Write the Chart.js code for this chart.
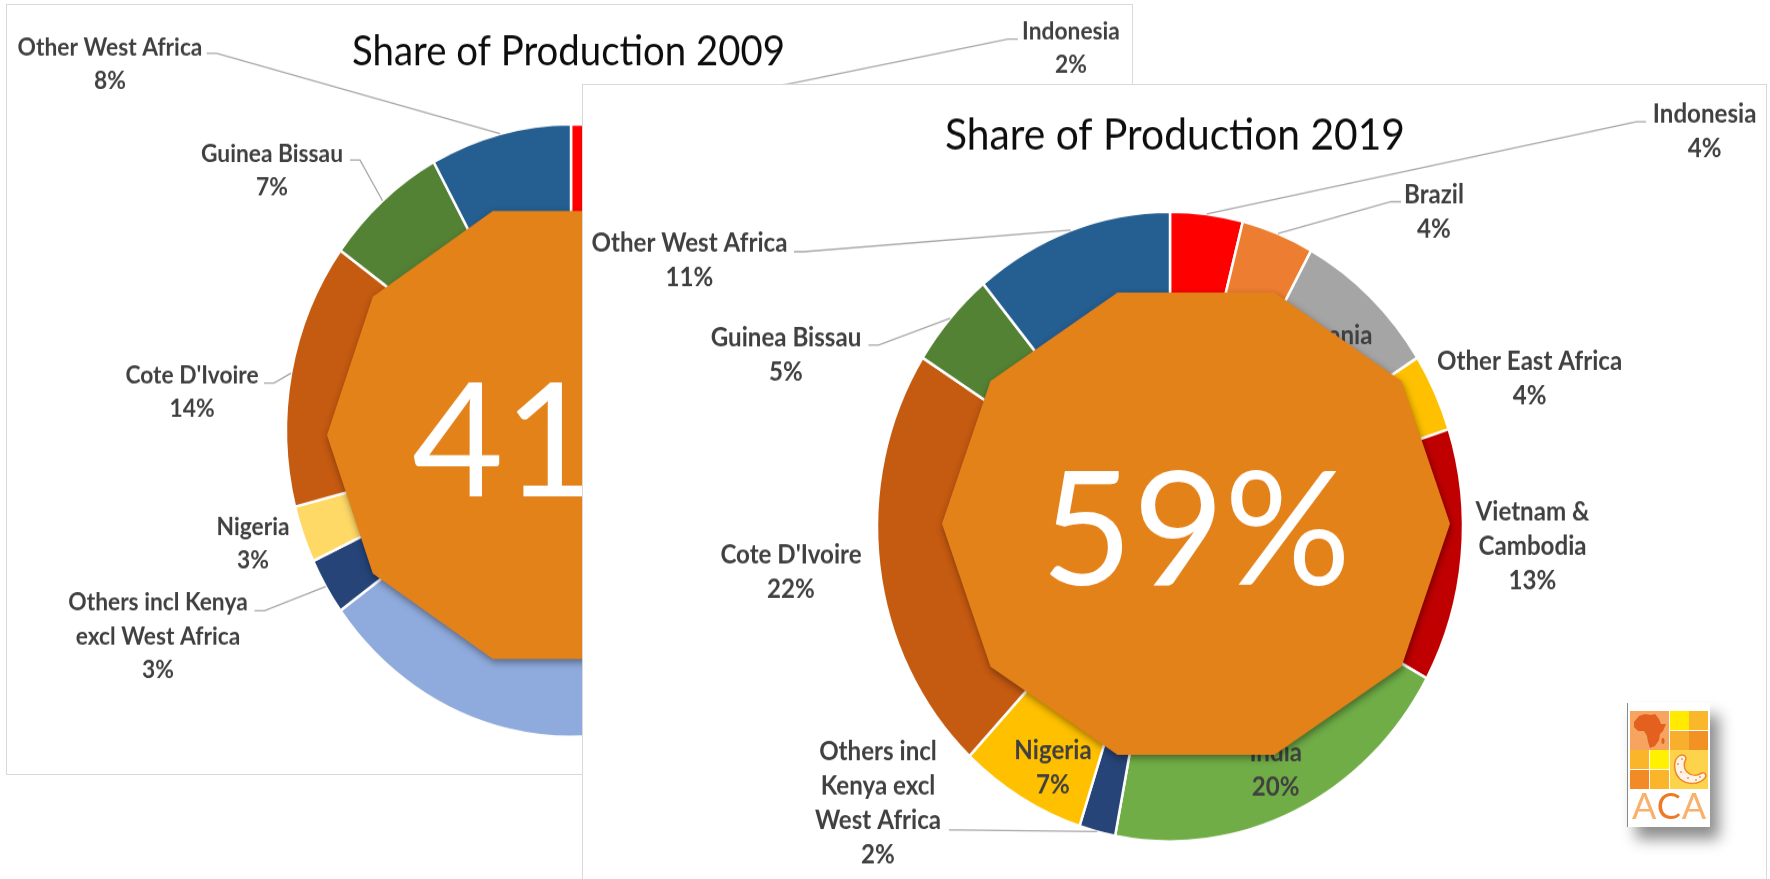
<!DOCTYPE html>
<html>
<head>
<meta charset="utf-8">
<script src="https://cdn.jsdelivr.net/npm/chart.js@4.4.1/dist/chart.umd.min.js"></script>
<style>
html, body { margin: 0; padding: 0; background: #fff; }
body { width: 1770px; height: 879px; position: relative; overflow: hidden; font-family: Lato, "Open Sans", sans-serif; }
.panel { position: absolute; background: #fff; border: 1px solid #d9d9d9; box-sizing: border-box; }
canvas.pie { position: absolute; transform-origin: 0 0; }
#logo { position: absolute; left: 1627px; top: 703px; width: 83px; height: 124px; background: #fff;
        border-left: 1px solid #8a8a8a; box-sizing: border-box; box-shadow: 9px 12px 14px rgba(0,0,0,0.45); }
#logo .c { position: absolute; width: 19px; height: 19px; }
#logo svg { display: block; }
#aca { position: absolute; left: 0; top: 84px; width: 83px; text-align: center; font: 400 36px/36px Lato, sans-serif; letter-spacing: 1px; }
</style>
</head>
<body>
<div class="panel" style="left:6px;top:4px;width:1127px;height:771px"></div>
<canvas class="pie" id="chart2009"></canvas>
<div class="panel" style="left:582px;top:84px;width:1185px;height:820px"></div>
<canvas class="pie" id="chart2019"></canvas>

<div id="logo">
  <div class="c" style="left:2px;top:8px;width:38.5px;height:38.5px;background:#F6A45F">
    <svg width="39" height="39" viewBox="0 0 39 39">
      <path d="M4 11 L9 5 L15 3 L21 4 L25 3 L29 8 L31 13 L36 13 L33 20 L30 23 L29 29 L25 35 L20 37 L18 31 L17 25 L14 20 L8 20 L4 16 Z" fill="#E3601E"/>
      <ellipse cx="33" cy="30" rx="1.5" ry="3" fill="#E3601E"/>
    </svg>
  </div>
  <div class="c" style="left:41.5px;top:8px;background:#FFEA00"></div>
  <div class="c" style="left:61px;top:8px;background:#FBB72B"></div>
  <div class="c" style="left:41.5px;top:27.5px;background:#F9AF2E"></div>
  <div class="c" style="left:61px;top:27.5px;background:#F39224"></div>
  <div class="c" style="left:2px;top:47px;background:#FBB52A"></div>
  <div class="c" style="left:21.5px;top:47px;background:#FFF100"></div>
  <div class="c" style="left:2px;top:66.5px;background:#F28B26"></div>
  <div class="c" style="left:21.5px;top:66.5px;background:#FBB52A"></div>
  <div class="c" style="left:41.5px;top:47px;width:38.5px;height:38.5px;background:#FCD34A">
    <svg width="39" height="39" viewBox="0 0 39 39">
      <path d="M9 6 C3 10 3 22 10 29 C17 35 29 35 35 28 C37 25 35 22 32 23 C27 26 21 26 17 22 C13 18 14 12 16 9 C16 5 12 4 9 6 Z" fill="#FFF3E8" stroke="#F0862A" stroke-width="1.5"/>
      <circle cx="8" cy="14" r="1" fill="#F29A4A"/><circle cx="11" cy="22" r="1" fill="#F29A4A"/>
      <circle cx="18" cy="28" r="1" fill="#F29A4A"/><circle cx="26" cy="30" r="1" fill="#F29A4A"/>
      <circle cx="12" cy="9" r="1" fill="#F29A4A"/><circle cx="30" cy="27" r="1" fill="#F29A4A"/>
    </svg>
  </div>
  <div id="aca"><span style="color:#F8B06A">A</span><span style="color:#EE7A27">C</span><span style="color:#F8B06A">A</span></div>
</div>

<script>
// categories are in the same clockwise order for both years
const categories = ['Indonesia', 'Brazil', 'Tanzania', 'Other East Africa', 'Vietnam & Cambodia', 'India',
    'Others incl Kenya excl West Africa', 'Nigeria', "Cote D'Ivoire", 'Guinea Bissau', 'Other West Africa'];
const african = [false, false, true, true, false, false, true, true, true, true, true];

const share2009 = [2, 7, 3, 3, 27, 23, 3, 3, 14, 7, 8];
const share2019 = [4, 4, 8, 4, 13, 20, 2, 7, 22, 5, 11];

const title2009 = 'Share of Production 2009';
const title2019 = 'Share of Production 2019';

const colors2009 = ['#FF0000', '#ED7D31', '#A5A5A5', '#FFC000', '#C00000', '#8FAADC',
    '#264478', '#FFD966', '#C55A11', '#548235', '#255E91'];
const colors2019 = ['#FF0000', '#ED7D31', '#A5A5A5', '#FFC000', '#C00000', '#70AD47',
    '#264478', '#FFC000', '#C55A11', '#548235', '#255E91'];

// the picture is a bit taller than wide, so the canvases get stretched
const STRETCH = 1.075;

// page positions (px) of the pieces of each chart
const layout2009 = {
    left: 6, top: 4, width: 1127, height: 771,
    cx: 571, cy: 430.5, r: 285,
    title: title2009, titleX: 568.5, titleBase: 65.7, titleWidth: 433,
    labelFit: 185, lineGap: 33.5,
    labelAt: [[1071, 31], [780, 170], [880, 280], [960, 360], [960, 470], [760, 690],
              [158, 602], [253, 526], [192, 375], [272, 153], [110, 47]],
    leadFrom: [[1018, 39], null, null, null, null, null,
               [254.5, 610.7], null, [264, 383], [350, 160], [206.7, 53.3]],
    wrap: {4: ['Vietnam &', 'Cambodia'], 6: ['Others incl Kenya', 'excl West Africa']},
    badge: {cx: 567, cy: 435, rx: 240, ry: 235.5, base: 496.7}
};

const layout2019 = {
    left: 582, top: 84, width: 1188, height: 795,
    cx: 1170, cy: 526.5, r: 293,
    title: title2019, titleX: 1175, titleBase: 150, titleWidth: 460,
    labelFit: 196, lineGap: 34.5,
    labelAt: [[1704.6, 113], [1434, 194], [1326, 335], [1529.6, 361], [1532.5, 511], [1275.7, 752],
              [878, 751], [1053, 750], [791, 554], [786, 337], [689.5, 242.5]],
    leadFrom: [[1646.2, 121.7], [1401, 201.7], null, null, null, null,
               [948.9, 830], null, null, [868.5, 345], [793.9, 251.7]],
    wrap: {4: ['Vietnam &', 'Cambodia'], 6: ['Others incl', 'Kenya excl', 'West Africa']},
    badge: {cx: 1196, cy: 523.7, rx: 254, ry: 243, base: 585}
};

function fitSize(ctx, text, weight, target) {
    ctx.font = weight + ' 100px Lato';
    return 100 * target / ctx.measureText(text).width;
}

const overlay = {
    id: 'overlay',
    afterDatasetsDraw(chart, args, opts) {
        const L = opts.layout;
        const ctx = chart.ctx;
        const toC = (x, y) => [x - L.left, (y - L.top) / STRETCH];
        const meta = chart.getDatasetMeta(0);
        const values = chart.data.datasets[0].data;

        ctx.save();
        ctx.textAlign = 'center';
        ctx.textBaseline = 'alphabetic';

        // title
        const tSize = fitSize(ctx, L.title, 400, L.titleWidth);
        ctx.font = '400 ' + tSize + 'px Lato';
        ctx.fillStyle = '#0d0d0d';
        let p = toC(L.titleX, L.titleBase);
        ctx.fillText(L.title, p[0], p[1]);

        // data labels + leader lines
        const lSize = fitSize(ctx, 'Other West Africa', 700, L.labelFit);
        ctx.font = '700 ' + lSize + 'px Lato';
        meta.data.forEach((arc, i) => {
            const a = arc.getProps(['x', 'y', 'startAngle', 'endAngle', 'outerRadius'], true);
            const mid = (a.startAngle + a.endAngle) / 2;
            const ax = a.x + Math.cos(mid) * a.outerRadius;
            const ay = a.y + Math.sin(mid) * a.outerRadius;
            const lead = L.leadFrom[i];
            if (lead) {
                const s = toC(lead[0], lead[1]);
                const dir = ax > s[0] ? 1 : -1;
                ctx.beginPath();
                ctx.moveTo(s[0], s[1]);
                ctx.lineTo(s[0] + dir * 10, s[1]);
                ctx.lineTo(ax, ay);
                ctx.strokeStyle = '#a6a6a6';
                ctx.lineWidth = 1.3;
                ctx.stroke();
            }
            const lines = (L.wrap[i] || [chart.data.labels[i]]).concat([values[i] + '%']);
            ctx.fillStyle = '#404040';
            lines.forEach((txt, k) => {
                const midY = L.labelAt[i][1] + k * L.lineGap;
                const q = toC(L.labelAt[i][0], midY + 0.36 * lSize * STRETCH);
                ctx.fillText(txt, q[0], q[1]);
            });
        });

        // orange decagon with the African share
        const b = L.badge;
        ctx.beginPath();
        for (let k = 0; k < 10; k++) {
            const t = k * Math.PI / 5;
            const v = toC(b.cx + b.rx * Math.cos(t), b.cy - b.ry * Math.sin(t));
            if (k === 0) ctx.moveTo(v[0], v[1]); else ctx.lineTo(v[0], v[1]);
        }
        ctx.closePath();
        ctx.save();
        ctx.shadowColor = 'rgba(0,0,0,0.4)';
        ctx.shadowBlur = 7;
        ctx.shadowOffsetX = 1;
        ctx.shadowOffsetY = 3;
        ctx.fillStyle = '#E4821A';
        ctx.fill();
        ctx.restore();

        const pct = values.reduce((s, v, i) => s + (african[i] ? v : 0), 0);
        const big = pct + '%';
        const bSize = fitSize(ctx, big, 400, 310);
        ctx.font = '400 ' + bSize + 'px Lato';
        ctx.fillStyle = '#ffffff';
        const c = toC(b.cx, b.base);
        ctx.save();
        ctx.translate(c[0], c[1]);
        ctx.scale(1, 1 / STRETCH);
        ctx.fillText(big, 0, 0);
        ctx.restore();

        ctx.restore();
    }
};

function makeChart(id, values, colors, L) {
    const canvas = document.getElementById(id);
    const W = L.width;
    const H = Math.ceil(L.height / STRETCH);
    canvas.width = W;
    canvas.height = H;
    canvas.style.left = L.left + 'px';
    canvas.style.top = L.top + 'px';

    // put the chart area centre on the pie centre
    const cx = L.cx - L.left;
    const cy = (L.cy - L.top) / STRETCH;
    const pad = {left: 0, right: 0, top: 0, bottom: 0};
    if (cx < W / 2) pad.right = W - 2 * cx; else pad.left = 2 * cx - W;
    if (cy < H / 2) pad.bottom = H - 2 * cy; else pad.top = 2 * cy - H;

    const chart = new Chart(canvas, {
        type: 'doughnut',
        data: {
            labels: categories,
            datasets: [{
                data: values,
                backgroundColor: colors,
                borderColor: '#ffffff',
                borderWidth: 2.5,
                hoverOffset: 0
            }]
        },
        options: {
            responsive: false,
            animation: false,
            events: [],
            radius: L.r,
            cutout: '62%',
            rotation: 0,
            layout: {padding: pad},
            plugins: {
                legend: {display: false},
                tooltip: {enabled: false},
                title: {display: false},
                overlay: {layout: L}
            }
        },
        plugins: [overlay]
    });
    canvas.style.transform = 'scaleY(' + STRETCH + ')';
    return chart;
}

makeChart('chart2009', share2009, colors2009, layout2009);
makeChart('chart2019', share2019, colors2019, layout2019);
</script>
</body>
</html>
